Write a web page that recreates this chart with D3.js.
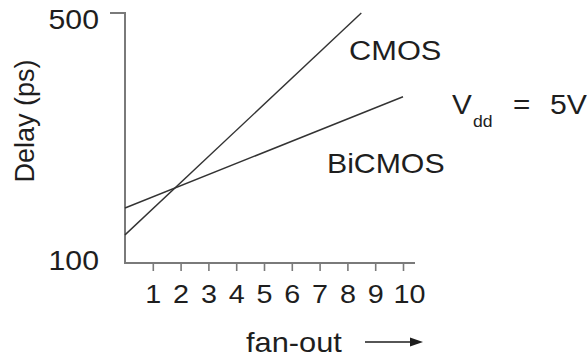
<!DOCTYPE html>
<html>
<head>
<meta charset="utf-8">
<script src="https://cdn.jsdelivr.net/npm/d3@7"></script>
<style>
  html, body { margin: 0; padding: 0; background: #fff; }
  svg { display: block; }
  text { font-family: "Liberation Sans", Arial, Helvetica, sans-serif; fill: #1e1e1e; }
</style>
</head>
<body>
<svg id="chart" width="587" height="358"></svg>
<script>
// ---- data ----
const cmosFanout   = [0, 8.5];
const cmosDelay    = [145, 500];
const bicmosFanout = [0, 10];
const bicmosDelay  = [188, 366];
const xTickValues  = [1, 2, 3, 4, 5, 6, 7, 8, 9, 10];
const yTickValues  = [100, 500];
const seriesLabels = ["CMOS", "BiCMOS"];
const xTitle = "fan-out";
const yTitle = "Delay (ps)";

// ---- layout ----
const svg = d3.select("#chart");
const x = d3.scaleLinear().domain([0, 10]).range([125, 403]);
const y = d3.scaleLinear().domain([100, 500]).range([263, 13]);
const axisEnd = 415;
const axisColor = "#7a7a7a";

// x axis
const xAxis = d3.axisBottom(x).tickValues(xTickValues).tickSizeInner(8).tickSizeOuter(0).tickFormat(d3.format("d"));
const gx = svg.append("g").attr("transform", `translate(0,${y(100)})`).call(xAxis);
gx.select(".domain").remove();
gx.selectAll(".tick line").attr("stroke", axisColor).attr("stroke-width", 1.6);
gx.selectAll(".tick text")
  .attr("y", 40).attr("dy", 0)
  .attr("font-size", 25)
  .attr("fill", "#1e1e1e")
  .attr("transform", d => `translate(${d >= 10 ? 6 : 0},0) scale(1.15,1)`);
svg.append("line")
  .attr("x1", x(0)).attr("x2", axisEnd)
  .attr("y1", y(100)).attr("y2", y(100))
  .attr("stroke", axisColor).attr("stroke-width", 2);

// y axis
svg.append("line")
  .attr("x1", x(0)).attr("x2", x(0))
  .attr("y1", y(500) - 1).attr("y2", y(100) + 1)
  .attr("stroke", axisColor).attr("stroke-width", 2);
svg.append("line")
  .attr("x1", x(0) - 15).attr("x2", x(0))
  .attr("y1", y(500)).attr("y2", y(500))
  .attr("stroke", axisColor).attr("stroke-width", 2);
svg.selectAll(".ylab").data(yTickValues).enter().append("text")
  .attr("class", "ylab")
  .attr("text-anchor", "end")
  .attr("font-size", 27)
  .attr("transform", d => `translate(99,${y(d) + (d === 500 ? 16 : 7)}) scale(1.12,1)`)
  .text(d => d);

// y title
svg.append("text")
  .attr("text-anchor", "middle")
  .attr("font-size", 27)
  .attr("transform", "translate(34,121) rotate(-90)")
  .text(yTitle);

// series lines
const line = d3.line().x(d => x(d[0])).y(d => y(d[1]));
const cmos = cmosFanout.map((f, i) => [f, cmosDelay[i]]);
const bicmos = bicmosFanout.map((f, i) => [f, bicmosDelay[i]]);
[cmos, bicmos].forEach(s => {
  svg.append("path").attr("d", line(s))
    .attr("fill", "none").attr("stroke", "#333").attr("stroke-width", 1.4);
});

// series labels
svg.append("text").attr("font-size", 28)
  .attr("transform", "translate(349,60) scale(1.1,1)").text(seriesLabels[0]);
svg.append("text").attr("font-size", 28)
  .attr("transform", "translate(327,173) scale(1.08,1)").text(seriesLabels[1]);

// Vdd annotation
const vdd = svg.append("g");
vdd.append("text").attr("font-size", 27).attr("transform", "translate(452,114) scale(1.1,1)").text("V");
vdd.append("text").attr("font-size", 16).attr("transform", "translate(473,127) scale(1.1,1)").text("dd");
vdd.append("text").attr("font-size", 27).attr("transform", "translate(513,114) scale(1.1,1)").text("=");
vdd.append("text").attr("font-size", 27).attr("transform", "translate(550,114) scale(1.12,1)").text("5V");

// x title with arrow
svg.append("text").attr("font-size", 28.5)
  .attr("transform", "translate(246,352) scale(1.08,1)").text(xTitle);
svg.append("line")
  .attr("x1", 365).attr("x2", 412).attr("y1", 342).attr("y2", 342)
  .attr("stroke", "#1e1e1e").attr("stroke-width", 1.6);
svg.append("path")
  .attr("d", "M410,337.5 L423,342 L410,346.5 Z")
  .attr("fill", "#1e1e1e");
</script>
</body>
</html>
